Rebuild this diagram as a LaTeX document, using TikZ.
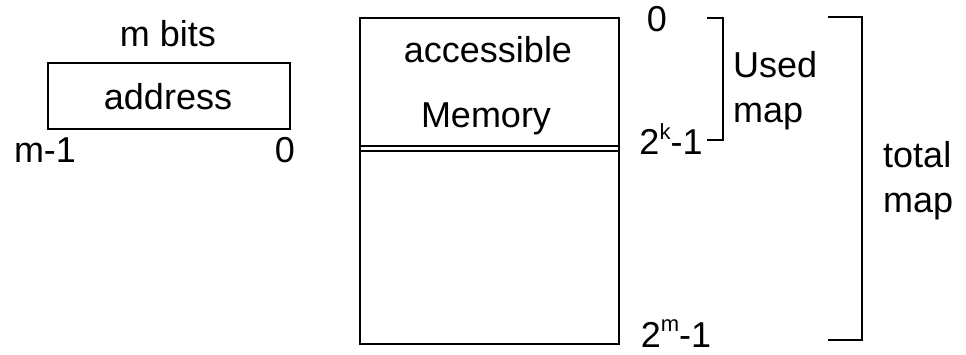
\documentclass[tikz,border=0pt]{standalone}
\usepackage{fontspec}
\setmainfont{Liberation Sans}
\begin{document}
\begin{tikzpicture}[x=1pt,y=-1pt,
  lbl/.style={anchor=base,inner sep=0pt,font=\fontsize{36}{43}\selectfont},
  lblw/.style={anchor=base west,inner sep=0pt,font=\fontsize{36}{43}\selectfont},
  boxline/.style={draw=black,line width=1.6pt},
  brk/.style={draw=black,line width=1.4pt}]
\useasboundingbox (0,0) rectangle (966,355);
% address register
\node[boxline,minimum width=242pt,minimum height=66pt,inner sep=0pt] (addr) at (169,96) {};
\node[lbl] (mbits) at (168,47) {m bits};
\node[lbl] (addrtxt) at (168,110) {address};
\node[lbl] (mminus) at (45,163) {m-1};
\node[lbl] (azero) at (285,163) {0};
% memory
\node[boxline,minimum width=259pt,minimum height=326pt,inner sep=0pt] (mem) at (489.5,181) {};
\draw[line width=1.4pt] (mem.west |- 0,146) -- (mem.east |- 0,146);
\draw[line width=1.4pt] (mem.west |- 0,151) -- (mem.east |- 0,151);
\node[lbl] (acc) at (488,63) {accessible};
\node[lbl] (memtxt) at (486,128) {Memory};
% address labels
\node[lbl] (zero) at (657,32) {0};
\node[lbl] (twok) at (671,155) {2\raisebox{0.42em}{\fontsize{22}{26}\selectfont k}-1};
\node[lbl] (twom) at (676,347) {2\raisebox{0.42em}{\fontsize{22}{26}\selectfont m}-1};
% used map bracket
\draw[brk] (707,18) -- (723,18) -- (723,140) -- (707,140);
\node[lblw] (used) at (733,78) {Used};
\node[lblw] (umap) at (733,123) {map};
% total map bracket
\draw[brk] (828,17) -- (862,17) -- (862,340) -- (828,340);
\node[lblw] (total) at (883,168) {total};
\node[lblw] (tmap) at (883,213) {map};
\end{tikzpicture}
\end{document}
